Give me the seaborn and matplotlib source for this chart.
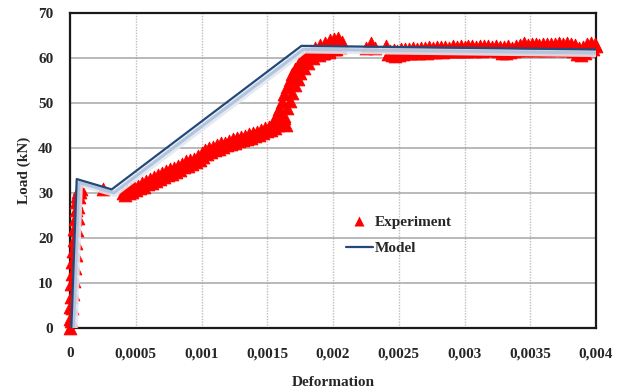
import numpy as np
import pandas as pd
import matplotlib
matplotlib.use("Agg")
import matplotlib.pyplot as plt
import matplotlib.patheffects as pe
from matplotlib.lines import Line2D
import seaborn as sns

# Experimental load-deformation record (upper trace of readings)
exp_deformation = [
    0.0, 0.0, 0.000003, 0.000006, 0.00001, 0.000014, 0.000018, 0.000022,
    0.000027, 0.000032, 0.000037, 0.000042, 0.000048, 0.000054, 0.00006,
    0.00007, 0.00008, 0.00025,
    0.00040, 0.00043, 0.00046, 0.00049, 0.00052, 0.00055, 0.00058, 0.00061,
    0.00064, 0.00067, 0.00070, 0.00073, 0.00076, 0.00079, 0.00082, 0.00085,
    0.00088, 0.00091, 0.00094, 0.00097, 0.00100, 0.00103, 0.00106, 0.00109,
    0.00112, 0.00115, 0.00118, 0.00121, 0.00124, 0.00127, 0.00130, 0.00133,
    0.00136, 0.00139, 0.00142, 0.00145, 0.00148, 0.00151, 0.00154, 0.00157,
    0.00160, 0.00162, 0.00163,
    0.00157, 0.00159, 0.00161, 0.00163, 0.00165, 0.00167, 0.00169, 0.00171,
    0.00174, 0.00177, 0.00180, 0.00183, 0.00186, 0.00190, 0.00194, 0.00198,
    0.00201, 0.00204, 0.00207, 0.00192, 0.00197, 0.00202,
    0.00225, 0.00229, 0.00232,
    0.00240, 0.00243, 0.00246, 0.00249, 0.00252, 0.00255, 0.00258, 0.00261,
    0.00264, 0.00267, 0.00270, 0.00273, 0.00276, 0.00279, 0.00282, 0.00285,
    0.00288, 0.00291, 0.00294, 0.00297, 0.00300, 0.00303, 0.00306, 0.00309,
    0.00312, 0.00315, 0.00318, 0.00321, 0.00324, 0.00327, 0.00330, 0.00333,
    0.00336, 0.00339, 0.00342, 0.00345, 0.00348, 0.00351, 0.00354, 0.00357,
    0.00360, 0.00363, 0.00366, 0.00369, 0.00372, 0.00375, 0.00378, 0.00381,
    0.00384, 0.00387, 0.00390, 0.00393, 0.00396, 0.00399, 0.00400,
]
exp_load = [
    0.0, 2.1, 4.6, 7.0, 9.8, 12.1, 14.7, 17.2,
    19.6, 21.9, 24.3, 26.2, 27.9, 29.4, 30.3,
    30.8, 30.9, 30.9,
    30.0, 30.4, 31.0, 31.3, 31.6, 32.3, 32.6, 33.2,
    33.6, 33.9, 34.4, 34.9, 35.3, 35.6, 36.0, 36.5,
    37.2, 37.3, 37.6, 38.3, 38.9, 39.5, 39.9, 40.2,
    40.6, 41.0, 41.2, 41.6, 42.0, 42.3, 42.5, 42.7,
    43.1, 43.3, 43.6, 44.1, 44.4, 44.7, 45.3, 45.9,
    46.2, 45.6, 46.6,
    47.0, 48.6, 50.3, 52.0, 53.6, 55.0, 56.4, 57.6,
    58.8, 59.9, 60.8, 61.6, 62.2, 62.8, 63.3, 63.9,
    64.3, 64.4, 63.6, 61.0, 61.4, 62.0,
    62.3, 63.4, 62.3,
    62.7, 61.6, 61.8, 61.6, 61.9, 62.1, 61.9, 62.2,
    62.1, 62.3, 62.2, 62.4, 62.3, 62.5, 62.4, 62.5,
    62.3, 62.6, 62.5, 62.6, 62.5, 62.7, 62.6, 62.5,
    62.7, 62.6, 62.7, 62.5, 62.6, 62.4, 62.5, 62.6,
    62.3, 62.6, 62.8, 63.3, 62.9, 63.0, 63.1, 62.9,
    63.2, 63.1, 63.2, 63.0, 63.3, 63.2, 63.3, 63.1,
    62.8, 62.3, 62.4, 63.0, 63.4, 63.1, 62.7,
]

# Lower trace of readings taken along the same loading path
exp_deformation_low = [
    0.00001, 0.000018, 0.000026, 0.000032, 0.000038, 0.000043, 0.000048,
    0.000053, 0.000058, 0.000063, 0.000068, 0.000075,
    0.000415, 0.000445, 0.000475, 0.000505, 0.000535, 0.000565, 0.000595,
    0.000625, 0.000655, 0.000685, 0.000715, 0.000745, 0.000775, 0.000805,
    0.000835, 0.000865, 0.000895, 0.000925, 0.000955, 0.000985, 0.001015,
    0.001045, 0.001075, 0.001105, 0.001135, 0.001165, 0.001195, 0.001225,
    0.001255, 0.001285, 0.001315, 0.001345, 0.001375, 0.001405, 0.001435,
    0.001465, 0.001495, 0.001525, 0.001555, 0.001585, 0.001615, 0.00164,
    0.00163, 0.00165, 0.00167, 0.00169, 0.00171, 0.00173, 0.00175, 0.00178,
    0.00181, 0.00185, 0.00189, 0.00193, 0.00197, 0.00201, 0.00205,
    0.002415, 0.002445, 0.002475, 0.002505, 0.002535, 0.002565, 0.002595,
    0.002625, 0.002655, 0.002685, 0.002715, 0.002745, 0.002775, 0.002805,
    0.002835, 0.002865, 0.002895, 0.002925, 0.002955, 0.002985, 0.003015,
    0.003045, 0.003075, 0.003105, 0.003135, 0.003165, 0.003195, 0.003225,
    0.003255, 0.003285, 0.003315, 0.003345, 0.003375, 0.003405, 0.003435,
    0.003465, 0.003495, 0.003525, 0.003555, 0.003585, 0.003615, 0.003645,
    0.003675, 0.003705, 0.003735, 0.003765, 0.003795, 0.003825, 0.003855,
    0.003885, 0.003915, 0.003945, 0.003975,
]
exp_load_low = [
    1.5, 4.5, 7.5, 10.5, 13.3, 16.2, 19.0,
    21.8, 24.5, 27.0, 29.2, 30.2,
    29.6, 29.9, 30.3, 30.6, 31.0, 31.4, 31.9,
    32.3, 32.6, 33.0, 33.5, 33.9, 34.2, 34.7,
    35.2, 35.7, 36.0, 36.4, 36.9, 37.4, 38.0,
    38.6, 39.1, 39.5, 39.8, 40.2, 40.6, 40.9,
    41.2, 41.5, 41.7, 42.0, 42.3, 42.6, 42.9,
    43.3, 43.7, 44.0, 44.5, 45.0, 45.4, 45.2,
    47.0, 48.8, 50.5, 52.2, 53.9, 55.3, 56.6, 57.8,
    58.9, 59.9, 60.6, 61.2, 61.6, 62.0, 62.4,
    60.9, 60.6, 60.5, 60.7, 60.9, 61.0, 61.1,
    61.0, 61.2, 61.3, 61.2, 61.4, 61.3, 61.5,
    61.4, 61.6, 61.5, 61.6, 61.5, 61.6, 61.5,
    61.7, 61.6, 61.7, 61.6, 61.7, 61.8, 61.7,
    61.5, 61.2, 61.0, 61.3, 61.6, 61.8, 61.7,
    61.8, 61.9, 61.7, 61.8, 61.9, 61.8, 61.7,
    61.9, 61.8, 61.9, 61.8, 61.7, 61.5, 60.8,
    60.7, 61.2, 61.7, 61.9,
]

# Multilinear model response
model_deformation = [0.00001, 0.000051, 0.000317, 0.00176, 0.004]
model_load = [0.0, 33.1, 30.8, 62.7, 61.9]

x_ticks = [0, 0.0005, 0.001, 0.0015, 0.002, 0.0025, 0.003, 0.0035, 0.004]
x_tick_labels = ["0", "0,0005", "0,001", "0,0015", "0,002", "0,0025",
                 "0,003", "0,0035", "0,004"]
y_ticks = [0, 10, 20, 30, 40, 50, 60, 70]

exp_df = pd.DataFrame({
    "Deformation": exp_deformation + exp_deformation_low,
    "Load": exp_load + exp_load_low,
})
model_df = pd.DataFrame({"Deformation": model_deformation, "Load": model_load})

sns.set_style("white")
plt.rcParams["font.family"] = ["Liberation Serif", "DejaVu Serif"]
plt.rcParams["font.weight"] = "bold"

RED = "#ff0000"
NAVY = "#23497a"

fig = plt.figure(figsize=(6.24, 3.89), dpi=100)
ax = fig.add_axes([0.1122, 0.1568, 0.843, 0.8098])

sns.scatterplot(data=exp_df, x="Deformation", y="Load", ax=ax, marker="^",
                s=85, color=RED, edgecolor=RED, linewidth=0.6, zorder=3,
                legend=False)
for coll in ax.collections:
    coll.set_clip_on(False)

sns.lineplot(data=model_df, x="Deformation", y="Load", ax=ax, color=NAVY,
             linewidth=1.6, sort=False, estimator=None, zorder=4, legend=False)
model_line = ax.lines[-1]
model_line.set_path_effects([
    pe.SimpleLineShadow(offset=(2.0, -3.0), shadow_color="#e1e8f2", alpha=0.9,
                        linewidth=5),
    pe.SimpleLineShadow(offset=(1.5, -2.5), shadow_color="#b3c5dd", alpha=1.0,
                        linewidth=2.2),
    pe.Normal(),
])

ax.set_xlim(0, 0.004)
ax.set_ylim(0, 70)
ax.set_xticks(x_ticks)
ax.set_xticklabels(x_tick_labels)
ax.set_yticks(y_ticks)
ax.tick_params(axis="x", length=0, labelsize=11, pad=14)
ax.tick_params(axis="y", length=0, labelsize=11, pad=12)
for lbl in ax.get_xticklabels() + ax.get_yticklabels():
    lbl.set_fontweight("bold")

ax.grid(False)
ax.yaxis.grid(True, color="#a6a6a6", linewidth=1.1, linestyle="-")
ax.xaxis.grid(True, color="#bdbdbd", linewidth=1.0, linestyle=(0, (1, 1)))
ax.set_axisbelow(True)

for side, spine in ax.spines.items():
    spine.set_visible(True)
    spine.set_color("#1a1a1a")
    spine.set_linewidth(1.6)

ax.set_xlabel("Deformation", fontsize=11, fontweight="bold", labelpad=11)
ax.set_ylabel("Load (kN)", fontsize=11, fontweight="bold", labelpad=5)

handles = [
    Line2D([], [], linestyle="none", marker="^", markersize=7,
           markerfacecolor=RED, markeredgecolor="none", label="Experiment"),
    Line2D([], [], color=NAVY, linewidth=1.6, label="Model"),
]
ax.legend(handles=handles, loc="upper left", bbox_to_anchor=(0.498, 0.40),
          frameon=False, prop={"size": 11, "weight": "bold"},
          handlelength=1.8, handletextpad=0.1, labelspacing=0.8)

fig.savefig("out.png", dpi=100)
